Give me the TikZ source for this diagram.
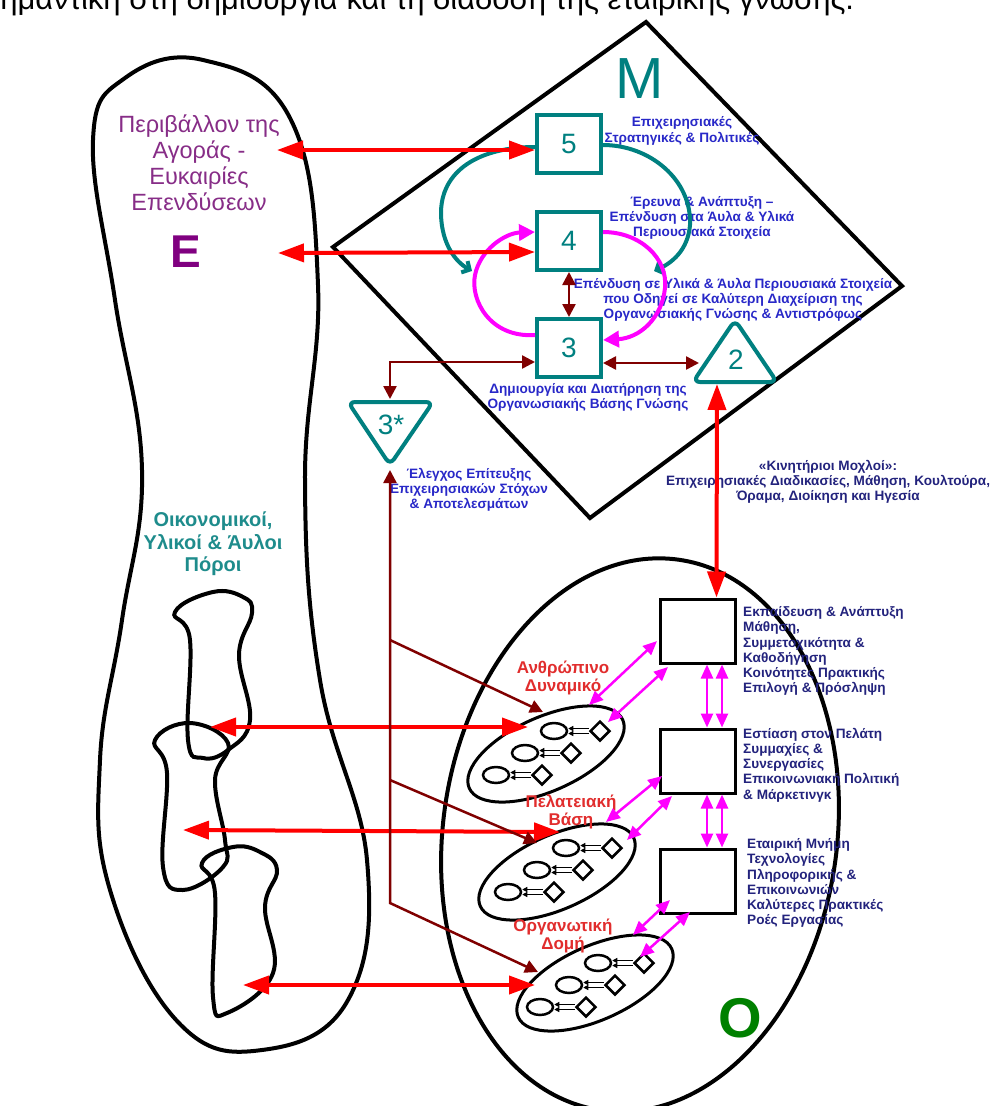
\documentclass[tikz,border=0pt]{standalone}
\usepackage{fontspec}
\setmainfont{Liberation Sans}
\usetikzlibrary{arrows.meta,shapes.geometric,calc}

\definecolor{tealc}{RGB}{0,128,128}
\definecolor{magc}{RGB}{255,0,255}
\definecolor{maroonc}{RGB}{128,0,0}
\definecolor{redc}{RGB}{255,0,0}
\definecolor{bluetxt}{RGB}{40,40,200}
\definecolor{navytxt}{RGB}{35,35,125}
\definecolor{purptxt}{RGB}{135,45,135}
\definecolor{purpE}{RGB}{128,0,128}
\definecolor{redtxt}{RGB}{225,45,45}
\definecolor{greenO}{RGB}{0,128,0}
\definecolor{tealtxt}{RGB}{30,140,140}

\begin{document}
\begin{tikzpicture}[x=1pt,y=-1pt,
  outline/.style={draw=black,line width=4pt},
  tealbox/.style={draw=tealc,line width=4pt,minimum width=64pt,minimum height=58pt,inner sep=0pt,
    text=tealc,font=\fontsize{28}{28}\selectfont},
  sqbox/.style={draw=black,line width=3pt,minimum width=75pt,minimum height=64pt,inner sep=0pt},
  tealshape/.style={draw=tealc,line width=4pt,rounded corners=7pt,line join=round},
  redarr/.style={draw=redc,line width=4pt,{Triangle[length=26pt,width=18pt]}-{Triangle[length=26pt,width=18pt]}},
  maroonline/.style={draw=maroonc,line width=2.5pt},
  maroontip/.style={-{Triangle[length=13pt,width=13pt]}},
  maroonboth/.style={{Triangle[length=13pt,width=13pt]}-{Triangle[length=13pt,width=13pt]}},
  magarr/.style={draw=magc,line width=2.5pt,{Triangle[length=14pt,width=12pt]}-{Triangle[length=14pt,width=12pt]}},
  magcurve/.style={draw=magc,line width=4pt,-{Triangle[length=16pt,width=16pt]}},
  tealcurve/.style={draw=tealc,line width=4pt,-{Straight Barb[length=6pt,width=13pt]}},
  bigell/.style={draw=black,line width=3pt,ellipse,minimum width=168pt,minimum height=74pt,inner sep=0pt,rotate=24},
  minell/.style={draw=black,line width=2.5pt,ellipse,minimum width=26pt,minimum height=16pt,inner sep=0pt},
  mindia/.style={draw=black,line width=2.5pt,diamond,minimum width=20pt,minimum height=20pt,inner sep=0pt},
  minarr/.style={draw=black,line width=1.2pt,-{Triangle[length=5pt,width=5pt]}},
  bluelab/.style={text=bluetxt,font=\fontsize{13.6}{15.2}\selectfont\bfseries,align=center,inner sep=0pt},
  navylab/.style={text=navytxt,font=\fontsize{13.6}{15.2}\selectfont\bfseries,align=left,inner sep=0pt,anchor=west},
  redlab/.style={text=redtxt,font=\fontsize{17}{18.5}\selectfont\bfseries,align=center,inner sep=0pt}
]
\useasboundingbox (0,0) rectangle (993,1106);
\fill[white] (0,0) rectangle (993,1106);

% running text of the page above the figure
\node[anchor=base west,inner sep=0pt,font=\fontsize{31}{31}\selectfont] (runtext) at (-19,9)
  {σημαντική στη δημιουργία και τη διάδοση της εταιρικής γνώσης.};

% ---------- environment (E) ----------
\draw[outline] plot[smooth cycle,tension=0.7] coordinates {
  (203,60) (290,118) (318,285) (305,480) (320,680) (367,860) (348,1000) (262,1050)
  (178,1022) (110,890) (100,760) (122,620) (142,470) (115,300) (93,140) (125,78)};
\draw[outline] plot[smooth cycle,tension=0.7] coordinates {
  (213,592) (243,597) (252,613) (239,655) (250,720) (228,750) (203,758) (188,740) (190,640) (175,612)};
\draw[outline] plot[smooth cycle,tension=0.7] coordinates {
  (190,723) (228,743) (215,780) (225,840) (223,867) (183,890) (163,867) (167,773) (155,740)};
\draw[outline] plot[smooth cycle,tension=0.7] coordinates {
  (233,847) (260,852) (277,870) (265,907) (273,973) (227,1013) (213,997) (215,893) (202,863)};

\node[text=purptxt,font=\fontsize{23.5}{26}\selectfont,align=center,inner sep=0pt] (envtxt) at (199,163)
  {Περιβάλλον της\\Αγοράς -\\Ευκαιρίες\\Επενδύσεων};
\node[text=purpE,font=\fontsize{46}{46}\selectfont\bfseries,inner sep=0pt] (Elet) at (186,252) {Ε};
\node[text=tealtxt,font=\fontsize{20}{22.5}\selectfont\bfseries,align=center,inner sep=0pt] (restxt) at (213,544)
  {Οικονομικοί,\\Υλικοί \& Άυλοι\\Πόροι};

% ---------- management diamond (M) ----------
\draw[outline,line join=miter] (646,22) -- (902,286) -- (590,518) -- (333,247) -- cycle;
\node[text=tealc,font=\fontsize{58}{58}\selectfont,inner sep=0pt] (Mlet) at (640,79) {Μ};

\node[tealbox] (b5) at (569,144) {5};
\node[tealbox] (b4) at (569,241) {4};
\node[tealbox] (b3) at (569,348) {3};

\draw[tealshape] (735,320) -- (777,382) -- (693,382) -- cycle;
\node[text=tealc,font=\fontsize{28}{28}\selectfont,inner sep=0pt] (tri2) at (736,360) {2};
\draw[tealshape] (348,402) -- (433,402) -- (390,465) -- cycle;
\node[text=tealc,font=\fontsize{28}{28}\selectfont,inner sep=0pt] (tri3) at (391,425) {3*};

\node[bluelab] (t5) at (682,131) {Επιχειρησιακές\\Στρατηγικές \& Πολιτικές};
\node[bluelab] (t4) at (702,218) {Έρευνα \& Ανάπτυξη –\\Επένδυση στα Άυλα \& Υλικά\\Περιουσιακά Στοιχεία};
\node[bluelab] (t43) at (733,300) {Επένδυση σε Υλικά \& Άυλα Περιουσιακά Στοιχεία\\που Οδηγεί σε Καλύτερη Διαχείριση της\\Οργανωσιακής Γνώσης \& Αντιστρόφως};
\node[bluelab] (t3) at (588,397) {Δημιουργία και Διατήρηση της\\Οργανωσιακής Βάσης Γνώσης};
\node[bluelab] (t3s) at (469,490) {Έλεγχος Επίτευξης\\Επιχειρησιακών Στόχων\\\& Αποτελεσμάτων};
\node[bluelab,text=navytxt] (tkin) at (828,482) {«Κινητήριοι Μοχλοί»:\\Επιχειρησιακές Διαδικασίες, Μάθηση, Κουλτούρα,\\Όραμα, Διοίκηση και Ηγεσία};

% cycles between the levels
\draw[tealcurve] ([yshift=-3pt]b5.west) .. controls (480,147) and (440,170) .. (441,215)
  .. controls (442,245) and (456,262) .. (472,271);
\draw[tealcurve] ([yshift=-1pt]b5.east) .. controls (650,145) and (692,180) .. (690,225)
  .. controls (688,250) and (672,263) .. (654,271);
\draw[magcurve] ([yshift=9pt]b4.east) .. controls (640,232) and (668,258) .. (665,288)
  .. controls (662,318) and (640,338) .. ([yshift=8pt]b3.east);
\draw[magcurve] ([yshift=13pt]b3.west) .. controls (490,338) and (470,300) .. (475,275)
  .. controls (480,250) and (505,233) .. ([yshift=9pt]b4.west);

\draw[maroonline,maroonboth] (b4.south) -- (b3.north);
\draw[maroonline,maroonboth] ([yshift=-15pt]b3.east) -- (699,363);
\coordinate (t3top) at (390,399);
\draw[maroonline,maroonboth] ([yshift=-14pt]b3.west) -- (390,362) -- (t3top);

% ---------- organisation (O) ----------
\node[draw=black,line width=4pt,ellipse,minimum width=394pt,minimum height=556pt,inner sep=0pt,rotate=-8] (bigO) at (640,835) {};
\node[text=greenO,font=\fontsize{56}{56}\selectfont\bfseries,inner sep=0pt] (Olet) at (740,1018) {Ο};

\node[sqbox] (sqA) at (697.5,631) {};
\node[sqbox] (sqB) at (697.5,761) {};
\node[sqbox] (sqC) at (697.5,881) {};

\node[navylab] (tA) at (743,651) {Εκπαίδευση \& Ανάπτυξη\\Μάθηση,\\Συμμετοχικότητα \&\\Καθοδήγηση\\Κοινότητες Πρακτικής\\Επιλογή \& Πρόσληψη};
\node[navylab] (tB) at (743,765) {Εστίαση στον Πελάτη\\Συμμαχίες \&\\Συνεργασίες\\Επικοινωνιακή Πολιτική\\\& Μάρκετινγκ};
\node[navylab] (tC) at (747,883) {Εταιρική Μνήμη\\Τεχνολογίες\\Πληροφορικής \&\\Επικοινωνιών\\Καλύτερες Πρακτικές\\Ροές Εργασίας};

\foreach \s in {9.5,24.5}{
  \draw[magarr] ([xshift=\s pt]sqA.south) -- ([xshift=\s pt]sqB.north);
  \draw[magarr] ([xshift=\s pt]sqB.south) -- ([xshift=\s pt]sqC.north);
}

% capital groups with their members
\node[bigell] (e1) at (546,754) {};
\node[bigell] (e2) at (557,872) {};
\node[bigell] (e3) at (595,983) {};

\foreach \e/\cx/\cy in {e1/548/753, e2/560/870, e3/592/985}{
  \foreach \k in {-1,0,1}{
    \node[minell] (\e m\k) at ($(\cx,\cy)+(\k*29,-\k*22)+(-23,0)$) {};
    \node[mindia] (\e d\k) at ($(\cx,\cy)+(\k*29,-\k*22)+(23,0)$) {};
    \draw[minarr] ([yshift=2.5pt]\e d\k.west) -- ([yshift=2.5pt]\e m\k.east);
    \draw[minarr] ([yshift=-2.5pt]\e d\k.west) -- ([yshift=-2.5pt]\e m\k.east);
  }
}

\node[redlab] (lA) at (563,678) {Ανθρώπινο\\Δυναμικό};
\node[redlab] (lB) at (571,812) {Πελατειακή\\Βάση};
\node[redlab] (lC) at (563,936) {Οργανωτική\\Δομή};

% links from the knowledge squares to the groups
\coordinate (a1) at (657,641); \coordinate (a1e) at (589,705);
\coordinate (a2) at (668,667); \coordinate (a2e) at (608,722);
\draw[magarr] (a1) -- (a1e);
\draw[magarr] (a2) -- (a2e);
\coordinate (b1) at (662,776); \coordinate (b1e) at (606,822);
\coordinate (b2) at (672,796); \coordinate (b2e) at (627,840);
\draw[magarr] (b1) -- (b1e);
\draw[magarr] (b2) -- (b2e);
\coordinate (c1) at (670,900); \coordinate (c1e) at (633,935);
\coordinate (c2) at (690,912); \coordinate (c2e) at (640,957);
\draw[magarr] (c1) -- (c1e);
\draw[magarr] (c2) -- (c2e);

% red exchanges
\coordinate (envA) at (277,150);
\coordinate (envB) at (278,253);
\draw[redarr] (envA) -- ([yshift=-6pt]b5.west);
\draw[redarr] (envB) -- ([yshift=-11pt]b4.west);
\coordinate (tri2base) at (717,384);
\draw[redarr] (tri2base) -- ([xshift=19pt]sqA.north);
\coordinate (r1) at (210,727); \coordinate (r1e) at (528,727);
\coordinate (r2) at (183,830); \coordinate (r2e) at (560,832);
\coordinate (r3) at (243,985); \coordinate (r3e) at (535,985);
\draw[redarr] (r1) -- (r1e);
\draw[redarr] (r2) -- (r2e);
\draw[redarr] (r3) -- (r3e);

% control loop from the groups back to 3*
\coordinate (t3bot) at (390,470);
\coordinate (j1) at (390,640); \coordinate (j2) at (390,780); \coordinate (j3) at (390,903);
\coordinate (m1e) at (543,712); \coordinate (m2e) at (537,843); \coordinate (m3e) at (538,972);
\draw[maroonline,maroonboth] (m3e) -- (j3) -- (t3bot);
\draw[maroonline,maroontip] (j1) -- (m1e);
\draw[maroonline,maroontip] (j2) -- (m2e);
\end{tikzpicture}
\end{document}
